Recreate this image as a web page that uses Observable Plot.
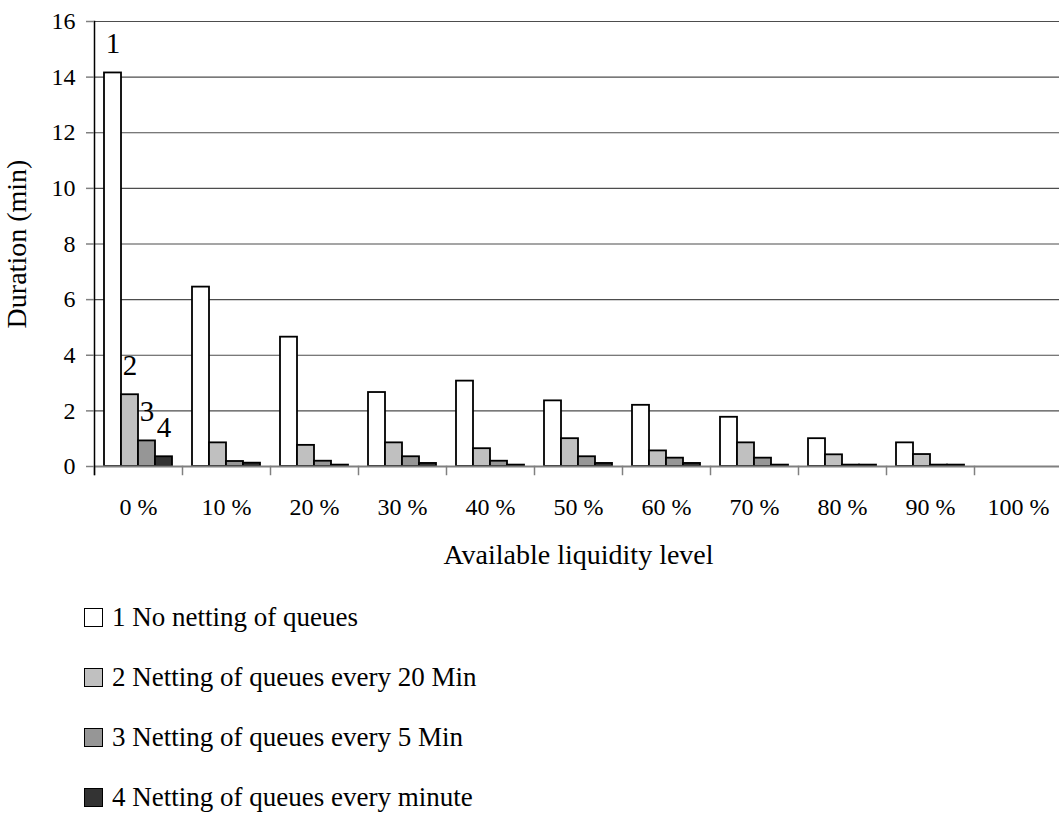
<!DOCTYPE html>
<html>
<head>
<meta charset="utf-8">
<script src="https://cdn.jsdelivr.net/npm/d3@7"></script>
<script src="https://cdn.jsdelivr.net/npm/@observablehq/plot@0.6"></script>
<style>
  html, body { margin: 0; padding: 0; background: #fff; overflow: hidden; }
  body { font-family: "Liberation Serif", "DejaVu Serif", serif; color: #000; }
  #chart svg { display: block; overflow: visible; font-family: "Liberation Serif", "DejaVu Serif", serif; }
  #chart svg text { font-family: "Liberation Serif", "DejaVu Serif", serif; }
  #chart g[aria-label="y-axis label"] text,
  #chart g[aria-label="fx-axis label"] text { font-size: 28px; }
  #legend { margin-top: 2px; padding-left: 84px; }
  #legend .row { display: flex; align-items: center; height: 60px; font-size: 27px; }
  #legend .sw { width: 17px; height: 17px; border: 1.5px solid #000; margin-right: 9px; box-sizing: content-box; }
</style>
</head>
<body>
<div id="chart"></div>
<div id="legend"></div>
<script>
// ---- data ----
const categories = ["0 %", "10 %", "20 %", "30 %", "40 %", "50 %", "60 %", "70 %", "80 %", "90 %", "100 %"];
const seriesIds = ["1", "2", "3", "4"];
const seriesNames = [
  "1 No netting of queues",
  "2 Netting of queues every 20 Min",
  "3 Netting of queues every 5 Min",
  "4 Netting of queues every minute"
];
const noNetting   = [14.15, 6.45, 4.65, 2.66, 3.07, 2.36, 2.20, 1.77, 1.00, 0.85, 0];
const netting20   = [2.58, 0.85, 0.76, 0.85, 0.64, 1.00, 0.56, 0.85, 0.42, 0.43, 0];
const netting5    = [0.92, 0.18, 0.19, 0.35, 0.19, 0.35, 0.30, 0.30, 0.05, 0.05, 0];
const netting1    = [0.35, 0.12, 0.05, 0.11, 0.05, 0.11, 0.11, 0.05, 0.05, 0.05, 0];
const yTicks = [0, 2, 4, 6, 8, 10, 12, 14, 16];
const gridTicks = [2, 4, 6, 8, 10, 12, 14, 16];
const fills = ["#ffffff", "#c0c0c0", "#969696", "#333333"];

// ---- table ----
const seriesValues = [noNetting, netting20, netting5, netting1];
const rows = [];
categories.forEach((c, i) => {
  seriesIds.forEach((s, j) => {
    rows.push({category: c, series: s, value: seriesValues[j][i]});
  });
});
const annotations = rows.filter(d => d.category === categories[0]);

const serif = "'Liberation Serif', 'DejaVu Serif', serif";

const chart = Plot.plot({
  width: 1059,
  height: 585,
  marginLeft: 91,
  marginRight: -6,
  marginTop: 21,
  marginBottom: 119,
  style: {fontFamily: serif, fontSize: "24px", color: "#000", background: "#fff", overflow: "visible"},
  fx: {domain: categories, padding: 0},
  x: {domain: seriesIds, paddingInner: 0, paddingOuter: 0.575, axis: null},
  y: {domain: [0, 16]},
  color: {domain: seriesIds, range: fills},
  marks: [
    Plot.ruleY(gridTicks, {stroke: "#4d4d4d", strokeWidth: 1.2}),
    Plot.barY(rows, {fx: "category", x: "series", y: "value", fill: "series", stroke: "#000", strokeWidth: 1.8, filter: d => d.value > 0}),
    Plot.ruleY([0], {stroke: "#808080", strokeWidth: 2}),
    Plot.frame({anchor: "left", stroke: "#808080", strokeWidth: 1.5, insetTop: 445, insetBottom: -8}),
    Plot.frame({anchor: "left", facet: "super", stroke: "#000", strokeWidth: 1.5, insetBottom: -8}),
    Plot.axisY({ticks: yTicks, tickSize: 8, tickPadding: 11, stroke: "#808080", strokeWidth: 1.5, fill: "#000", label: "Duration (min)", labelAnchor: "center", labelOffset: 88, labelArrow: "none"}),
    Plot.axisFx({anchor: "bottom", tickSize: 0, tickPadding: 31, fill: "#000", label: null}),
    Plot.axisFx({anchor: "bottom", ticks: [], tickSize: 0, fill: "#000", label: "Available liquidity level", labelAnchor: "center", labelOffset: 97, labelArrow: "none", dx: 14}),
    Plot.text(annotations, {fx: "category", x: "series", y: "value", text: "series", lineAnchor: "bottom", dy: -20, fontSize: 29, fill: "#000"})
  ]
});
document.getElementById("chart").appendChild(chart);

const legend = document.getElementById("legend");
seriesNames.forEach((name, i) => {
  const row = document.createElement("div");
  row.className = "row";
  const sw = document.createElement("span");
  sw.className = "sw";
  sw.style.background = fills[i];
  const t = document.createElement("span");
  t.textContent = name;
  row.appendChild(sw);
  row.appendChild(t);
  legend.appendChild(row);
});
</script>
</body>
</html>
